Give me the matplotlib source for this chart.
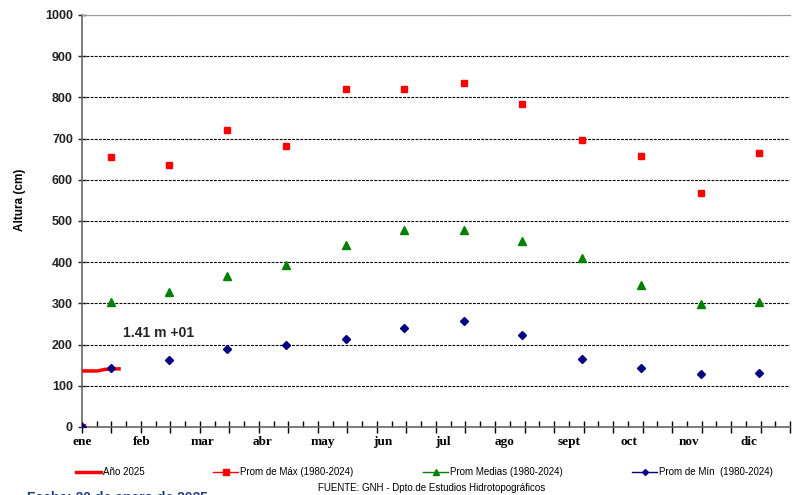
import numpy as np
import matplotlib.pyplot as plt
from matplotlib.lines import Line2D

# month labels and their positions (day of year)
months = ["ene", "feb", "mar", "abr", "may", "jun", "jul", "ago", "sept", "oct", "nov", "dic"]
month_label_days = [0, 31, 62, 93, 124, 155, 186, 218, 251, 282, 313, 344]

# monthly averages plotted at mid-month, plus a zero point at day 0
mid_days = [0, 15, 45, 75, 105, 136, 166, 197, 227, 258, 288, 319, 349]
prom_max = [0, 655, 636, 722, 683, 820, 820, 836, 785, 696, 657, 569, 664]
prom_med = [0, 304, 328, 366, 394, 441, 478, 478, 452, 410, 345, 299, 304]
prom_min = [0, 142, 162, 190, 198, 214, 240, 258, 224, 165, 142, 129, 131]

# daily level for 2025
days_2025 = [0, 2, 4, 6, 8, 9, 10, 11, 12, 13, 14, 15, 16, 17, 18, 19, 20]
level_2025 = [136, 136, 136, 136, 136, 137, 138, 139, 140, 140, 140, 141, 141, 141, 141, 141, 141]

fig = plt.figure(figsize=(7.92, 4.95), dpi=100)
ax = fig.add_axes([0.1035, 0.1374, 0.894, 0.8323])

ax.plot(days_2025, level_2025, color="#ff0000", lw=2.5, solid_capstyle="butt", zorder=4)
ax.plot(mid_days, prom_max, ls="none", marker="s", ms=5, color="#ff0000", zorder=5)
ax.plot(mid_days, prom_med, ls="none", marker="^", ms=5.5, color="#008000", zorder=5)
ax.plot(mid_days, prom_min, ls="none", marker="D", ms=4.5, color="#000080", zorder=6)

ax.text(21, 228, "1.41 m +01", fontsize=10, fontweight="bold", family="Liberation Sans",
        color="#222222", va="center", ha="left")

ax.set_xlim(0, 365)
ax.set_ylim(0, 1000)
ax.set_yticks(np.arange(0, 1001, 100))
ax.tick_params(axis="y", direction="inout", length=6, width=1, labelsize=9, colors="#222222")
for lab in ax.get_yticklabels():
    lab.set_fontweight("bold")
    lab.set_family("Liberation Sans")
ax.set_ylabel("Altura (cm)", fontsize=8.5, fontweight="bold", family="Liberation Sans")
ax.yaxis.set_label_coords(-0.079, 0.551)

ax.set_xticks(np.arange(0, 366, 365 / 24))
ax.set_xticks(np.arange(0, 366, 365 / 48), minor=True)
ax.tick_params(axis="x", which="major", direction="inout", length=8, width=1, labelbottom=False)
ax.tick_params(axis="x", which="minor", direction="in", length=4, width=1)
for d, m in zip(month_label_days, months):
    ax.text(d, -22, m, ha="center", va="top", fontsize=9.5, fontweight="bold",
            family="Liberation Serif", transform=ax.transData, clip_on=False)

ax.grid(axis="y", ls=(0, (2.5, 1.2)), color="#000000", lw=0.8)
ax.spines["right"].set_visible(False)
ax.spines["top"].set_color("#999999")
ax.spines["left"].set_color("#666666")
ax.spines["bottom"].set_color("#666666")
ax.spines["left"].set_linewidth(1.2)
ax.spines["bottom"].set_linewidth(1.2)

# one legend per entry, placed where the reference has them
handles = [
    Line2D([], [], color="#ff0000", lw=2.5),
    Line2D([], [], color="#ff0000", lw=1, marker="s", ms=4),
    Line2D([], [], color="#008000", lw=1, marker="^", ms=4),
    Line2D([], [], color="#000080", lw=1, marker="D", ms=3),
]
labels = ["Año 2025", "Prom de Máx (1980-2024)", "Prom Medias (1980-2024)", "Prom de Mín  (1980-2024)"]
legend_x = [76, 213, 423, 632]
for h, lab, x in zip(handles, labels, legend_x):
    fig.legend([h], [lab], loc="center left", bbox_to_anchor=(x / 792, 1 - 472 / 495),
               frameon=False, handlelength=2.6, handletextpad=0.15, borderpad=0,
               borderaxespad=0, prop={"family": "Liberation Sans", "size": 7})

fig.text(432 / 792, 1 - 488 / 495, "FUENTE: GNH - Dpto.de Estudios Hidrotopográficos", ha="center",
         va="center", fontsize=7, family="Liberation Sans")
fig.text(0.034, -0.006, "Fecha: 20 de enero de 2025", ha="left", va="center", fontsize=10,
         fontweight="bold", color="#1f3a80", family="Liberation Sans")

fig.savefig("out.png", dpi=100)
